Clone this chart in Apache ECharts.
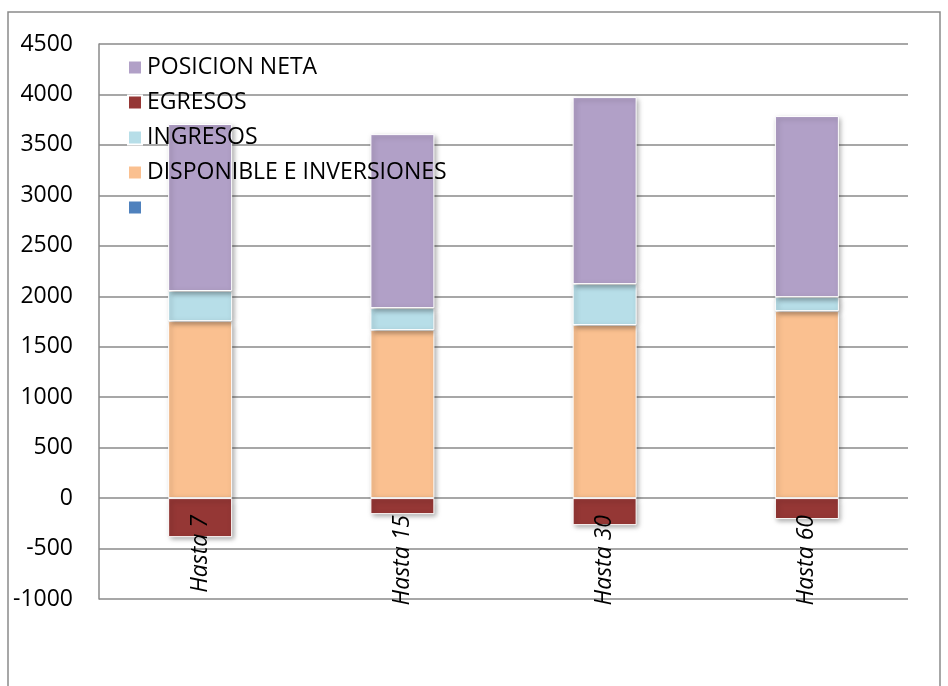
<!DOCTYPE html>
<html>
<head>
<meta charset="utf-8">
<script src="https://cdn.jsdelivr.net/npm/echarts@6/dist/echarts.min.js"></script>
<style>html,body{margin:0;padding:0;background:#fff}#c{width:948px;height:686px}</style>
</head>
<body>
<div id="c"></div>
<script>
var categories = ['Hasta 7', 'Hasta 15', 'Hasta 30', 'Hasta 60'];
var disponible = [1754, 1665, 1715, 1853];
var ingresos = [298, 218, 406, 139];
var egresos = [-387, -159, -268, -208];
var posicionNeta = [1655, 1724, 1853, 1794];
var yTicks = {min: -1000, max: 4500, interval: 500};

var FONT = 'Open Sans';
var chart = echarts.init(document.getElementById('c'));
var itemStyleBase = {borderColor: '#ffffff', borderWidth: 1, shadowBlur: 5, shadowColor: 'rgba(0,0,0,0.35)', shadowOffsetX: 2, shadowOffsetY: 2};
function ser(name, data, color) {
  return {name: name, type: 'bar', stack: 'a', data: data, barWidth: 64,
    itemStyle: Object.assign({color: color}, itemStyleBase)};
}
chart.setOption({
  animation: false,
  graphic: [{type: 'rect', shape: {x: 8, y: 12, width: 932, height: 700}, style: {fill: 'none', stroke: '#8a8a8a', lineWidth: 1.5}, z: -10}],
  grid: {left: 99, right: 40, top: 44, bottom: 87},
  legend: {
    orient: 'vertical', left: 127, top: 56, padding: 0, itemWidth: 14, itemHeight: 14, itemGap: 12,
    data: ['POSICION NETA', 'EGRESOS', 'INGRESOS', 'DISPONIBLE E INVERSIONES', ' '],
    textStyle: {fontFamily: FONT, fontSize: 23, color: '#000'},
    icon: 'rect'
  },
  xAxis: {
    type: 'category', data: categories, z: 10, offset: -84,
    axisLine: {show: false}, axisTick: {show: false},
    axisLabel: {rotate: 90, margin: 0, fontFamily: FONT, fontStyle: 'italic', fontSize: 23, color: '#000'}
  },
  yAxis: {
    type: 'value', min: yTicks.min, max: yTicks.max, interval: yTicks.interval,
    axisLine: {show: true, lineStyle: {color: '#8a8a8a', width: 1.5}},
    axisTick: {show: false},
    splitLine: {lineStyle: {color: '#8a8a8a', width: 1.5}},
    axisLabel: {margin: 26, fontFamily: FONT, fontSize: 23, color: '#000', formatter: function (v) { return String(v); }}
  },
  series: [
    ser('DISPONIBLE E INVERSIONES', disponible, '#FAC090'),
    ser('INGRESOS', ingresos, '#B7DEE8'),
    ser('EGRESOS', egresos, '#953735'),
    ser('POSICION NETA', posicionNeta, '#B1A0C7'),
    ser(' ', ['-', '-', '-', '-'], '#4F81BD')
  ]
});
</script>
</body>
</html>
